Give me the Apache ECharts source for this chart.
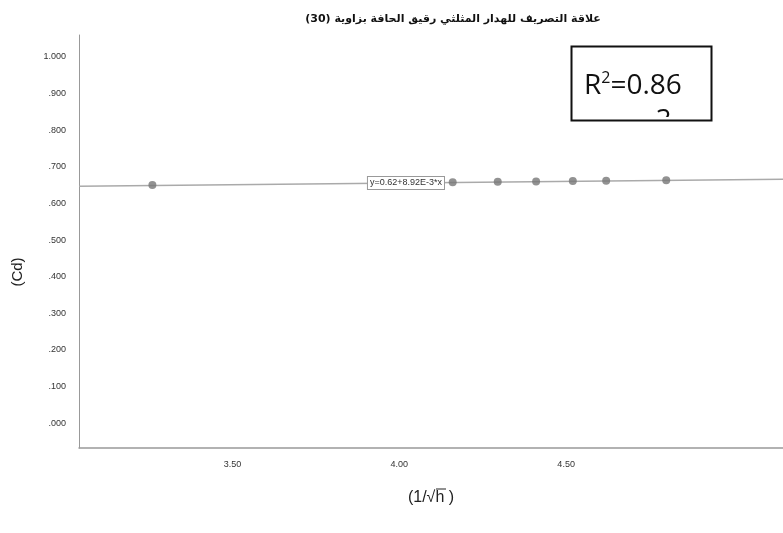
<!DOCTYPE html>
<html>
<head>
<meta charset="utf-8">
<script src="https://cdn.jsdelivr.net/npm/echarts@6/dist/echarts.min.js"></script>
<style>
  html, body { margin: 0; padding: 0; background: #fff; }
  #chart { width: 783px; height: 533px; }
</style>
</head>
<body>
<div id="chart"></div>
<script>
// 数据
const xValues = [3.26, 4.16, 4.295, 4.41, 4.52, 4.62, 4.80];
const cdValues = [0.650, 0.658, 0.659, 0.660, 0.661, 0.662, 0.663];
const xTicks = [3.5, 4.0, 4.5];
const yTicks = [0, 0.1, 0.2, 0.3, 0.4, 0.5, 0.6, 0.7, 0.8, 0.9, 1.0];
const fitIntercept = 0.62;
const fitSlope = 8.92e-3;
const fitLabel = 'y=0.62+8.92E-3*x';
const r2Text = '0.86';

const xMin = 3.04, xMax = 5.15;
const yMin = -0.068, yMax = 1.06;

const fmtY = v => {
    let s = v.toFixed(3);
    return s.startsWith('0') ? s.slice(1) : s;
};

let myChart = echarts.init(document.getElementById('chart'), null, { renderer: 'canvas' });
myChart.setOption({
    animation: false,
    title: {
        text: 'علاقة التصريف للهدار المثلثي رقيق الحافة بزاوية (30)',
        left: 448,
        textAlign: 'center',
        top: 9,
        textStyle: { fontSize: 11, fontWeight: 'bold', color: '#111', fontFamily: 'DejaVu Sans' }
    },
    grid: { left: 79, right: 0, top: 35, bottom: 85 },
    xAxis: {
        type: 'value',
        min: xMin,
        max: xMax,
        name: '(1/√h )',
        nameLocation: 'middle',
        nameGap: 42,
        nameTextStyle: { fontSize: 16, color: '#222', fontFamily: 'Liberation Sans' },
        axisLine: { onZero: false, lineStyle: { color: '#999', width: 1.5 } },
        axisTick: { show: false },
        splitLine: { show: false },
        axisLabel: {
            customValues: xTicks,
            formatter: v => v.toFixed(2),
            fontSize: 9, color: '#333', margin: 12, fontFamily: 'Liberation Sans'
        }
    },
    yAxis: {
        type: 'value',
        min: yMin,
        max: yMax,
        axisLine: { show: true, lineStyle: { color: '#999', width: 1 } },
        axisTick: { show: false },
        splitLine: { show: false },
        axisLabel: {
            customValues: yTicks,
            formatter: fmtY,
            fontSize: 9, color: '#333', margin: 13, fontFamily: 'Liberation Sans'
        }
    },
    series: [
        {
            name: 'fit',
            type: 'line',
            symbol: 'none',
            silent: true,
            data: [
                [xMin, fitIntercept + fitSlope * xMin],
                [xMax, fitIntercept + fitSlope * xMax]
            ],
            lineStyle: { color: '#aaa', width: 1.5 },
            markPoint: {
                symbol: 'rect',
                symbolSize: 0,
                data: [{
                    coord: [4.02, fitIntercept + fitSlope * 4.02],
                    label: {
                        show: true,
                        formatter: fitLabel,
                        backgroundColor: '#fff',
                        borderColor: '#999',
                        borderWidth: 1,
                        padding: [2, 2, 1, 2],
                        fontSize: 9,
                        color: '#333',
                        fontFamily: 'Liberation Sans'
                    }
                }]
            },
            z: 1
        },
        {
            name: 'Cd',
            type: 'scatter',
            data: xValues.map((x, i) => [x, cdValues[i]]),
            symbolSize: 8,
            itemStyle: { color: '#777' },
            z: 3
        }
    ],
    graphic: [
        {
            type: 'text', x: 18, y: 272, rotation: Math.PI / 2, z: 5,
            style: {
                text: '(Cd)', fontSize: 15, fill: '#222', fontFamily: 'Liberation Sans',
                align: 'center', verticalAlign: 'middle'
            }
        },
        {
            // overline on the h of the x-axis name
            type: 'line', z: 5,
            shape: { x1: 436, y1: 489, x2: 446, y2: 489 },
            style: { stroke: '#222', lineWidth: 1 }
        },
        {
            type: 'rect', left: 569, top: 44, z: 10,
            shape: { width: 140, height: 74 },
            style: { fill: '#fff' }
        },
        {
            type: 'text', left: 656, top: 108, z: 11,
            style: { text: '3', fontSize: 27, fill: '#111', fontFamily: 'Open Sans' }
        },
        {
            type: 'rect', left: 569, top: 117, z: 12,
            shape: { width: 140, height: 40 },
            style: { fill: '#fff' }
        },
        {
            type: 'rect', left: 569, top: 44, z: 13,
            shape: { width: 140, height: 74 },
            style: { fill: 'none', stroke: '#111', lineWidth: 2 }
        },
        {
            type: 'text', left: 584, top: 70, z: 14,
            style: {
                text: '{r|R}{s|2}{r|=' + r2Text + '}',
                rich: {
                    r: { fontSize: 28, fill: '#111', fontFamily: 'Open Sans', verticalAlign: 'bottom' },
                    s: { fontSize: 16, fill: '#111', fontFamily: 'Open Sans', verticalAlign: 'top', padding: [0, 0, 14, 0] }
                }
            }
        }
    ]
});
</script>
</body>
</html>
